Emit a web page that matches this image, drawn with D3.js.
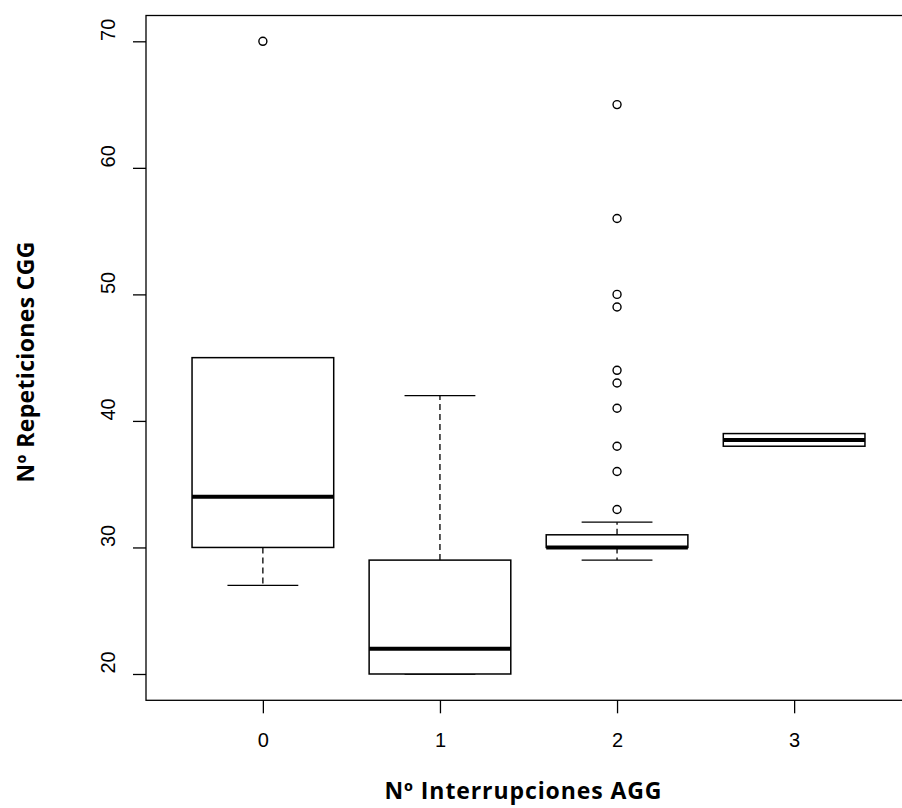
<!DOCTYPE html>
<html>
<head>
<meta charset="utf-8">
<script src="https://cdn.jsdelivr.net/npm/d3@7"></script>
<style>
html,body{margin:0;padding:0;background:#fff;}
svg{display:block;}
</style>
</head>
<body>
<svg id="chart" width="902" height="808"></svg>
<script>
// ---- data ----
const categories = ["0", "1", "2", "3"];
const whiskerLow  = [27, 20, 29, 38];
const q1          = [30, 20, 30, 38];
const medians     = [34, 22, 30, 38.5];
const q3          = [45, 29, 31, 39];
const whiskerHigh = [45, 42, 32, 39];
const outliers    = [[70], [], [33, 36, 38, 41, 43, 44, 49, 50, 56, 65], []];
const yTicks      = [20, 30, 40, 50, 60, 70];
const xTitle = "Nº Interrupciones AGG";
const yTitle = "Nº Repeticiones CGG";

// ---- layout ----
const svg = d3.select("#chart");
const pLeft = 146, pRight = 911, pTop = 16, pBottom = 699.3;
const x = d3.scaleLinear().domain([0.34, 4.66]).range([pLeft, pRight]);
const y = d3.scaleLinear().domain([18, 72]).range([pBottom, pTop]);
const boxW = x(1.8) - x(1);
const capW = boxW / 2;

// frame
svg.append("rect")
  .attr("x", pLeft).attr("y", pTop - 0.5)
  .attr("width", pRight - pLeft).attr("height", pBottom - pTop + 1.5)
  .attr("fill", "none").attr("stroke", "#000").attr("stroke-width", 1.3);

// axes
const yAxis = d3.axisLeft(y).tickValues(yTicks).tickSize(13).tickFormat(d3.format("d"));
const gy = svg.append("g").attr("transform", `translate(${pLeft},0)`).call(yAxis);
gy.select(".domain").remove();
gy.selectAll(".tick line").attr("stroke", "#000").attr("stroke-width", 1.3);
gy.selectAll(".tick text")
  .attr("transform", "rotate(-90)")
  .attr("x", 12).attr("y", -31).attr("dy", 0)
  .attr("text-anchor", "middle")
  .attr("font-family", "Liberation Sans, Arial, sans-serif")
  .attr("font-size", 20).attr("fill", "#000");

const xAxis = d3.axisBottom(x).tickValues([1, 2, 3, 4]).tickSize(13)
  .tickFormat((d) => categories[d - 1]);
const gx = svg.append("g").attr("transform", `translate(0,${pBottom + 1})`).call(xAxis);
gx.select(".domain").remove();
gx.selectAll(".tick line").attr("stroke", "#000").attr("stroke-width", 1.3);
gx.selectAll(".tick text")
  .attr("y", 47).attr("dy", 0)
  .attr("font-family", "Liberation Sans, Arial, sans-serif")
  .attr("font-size", 20).attr("fill", "#000");

// boxes
const groups = svg.append("g").selectAll("g").data(categories).join("g");
groups.each(function (c, i) {
  const g = d3.select(this);
  const cx = x(i + 1);
  g.append("line").attr("x1", cx).attr("x2", cx)
    .attr("y1", y(q3[i])).attr("y2", y(whiskerHigh[i]))
    .attr("stroke", "#000").attr("stroke-width", 1.3).attr("stroke-dasharray", "6,4");
  g.append("line").attr("x1", cx).attr("x2", cx)
    .attr("y1", y(q1[i])).attr("y2", y(whiskerLow[i]))
    .attr("stroke", "#000").attr("stroke-width", 1.3).attr("stroke-dasharray", "6,4");
  [whiskerHigh[i], whiskerLow[i]].forEach((v) => {
    g.append("line").attr("x1", cx - capW / 2).attr("x2", cx + capW / 2)
      .attr("y1", y(v)).attr("y2", y(v))
      .attr("stroke", "#000").attr("stroke-width", 1.3);
  });
  g.append("rect")
    .attr("x", cx - boxW / 2).attr("width", boxW)
    .attr("y", y(q3[i])).attr("height", y(q1[i]) - y(q3[i]))
    .attr("fill", "#fff").attr("stroke", "#000").attr("stroke-width", 1.5);
  g.append("line").attr("x1", cx - boxW / 2).attr("x2", cx + boxW / 2)
    .attr("y1", y(medians[i])).attr("y2", y(medians[i]))
    .attr("stroke", "#000").attr("stroke-width", 4);
  g.selectAll("circle").data(outliers[i]).join("circle")
    .attr("cx", cx).attr("cy", (d) => y(d)).attr("r", 4)
    .attr("fill", "none").attr("stroke", "#000").attr("stroke-width", 1.4);
});

// titles
svg.append("text")
  .attr("x", 523).attr("y", 799)
  .attr("text-anchor", "middle")
  .attr("font-family", "Open Sans, sans-serif").attr("font-weight", "bold")
  .attr("font-size", 23).attr("fill", "#000")
  .attr("textLength", 277).attr("lengthAdjust", "spacing")
  .text(xTitle);
svg.append("text")
  .attr("transform", `translate(33.5,362) rotate(-90)`)
  .attr("text-anchor", "middle")
  .attr("font-family", "Open Sans, sans-serif").attr("font-weight", "bold")
  .attr("font-size", 23).attr("fill", "#000")
  .attr("textLength", 241).attr("lengthAdjust", "spacing")
  .text(yTitle);
</script>
</body>
</html>
